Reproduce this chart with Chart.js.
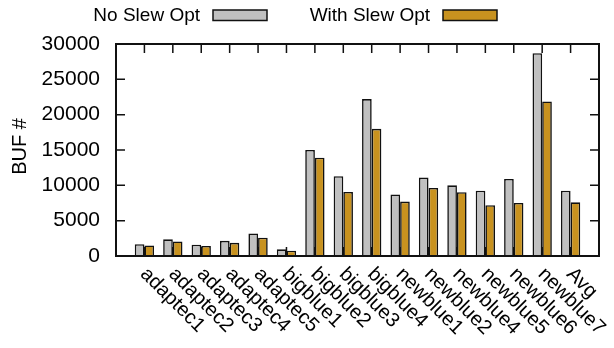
<!DOCTYPE html>
<html>
<head>
<meta charset="utf-8">
<script src="https://cdn.jsdelivr.net/npm/chart.js@4/dist/chart.umd.min.js"></script>
<style>
  html, body { margin: 0; padding: 0; background: #fff; }
  #c { display: block; }
</style>
</head>
<body>
<canvas id="c" width="614" height="348" style="width:614px;height:348px"></canvas>
<script>
// Benchmarks on the x axis
const categories = ['adaptec1', 'adaptec2', 'adaptec3', 'adaptec4', 'adaptec5',
  'bigblue1', 'bigblue2', 'bigblue3', 'bigblue4',
  'newblue1', 'newblue2', 'newblue4', 'newblue5', 'newblue6', 'newblue7', 'Avg'];

// Buffer counts per benchmark
const noSlew   = [1680, 2360, 1600, 2150, 3190, 950, 15000, 11300, 22200, 8700, 11100, 10000, 9250, 10900, 28700, 9250];
const withSlew = [1490, 2050, 1420, 1870, 2580, 740, 13900, 9070, 18000, 7700, 9640, 9020, 7180, 7510, 21870, 7600];

const seriesNames = ['No Slew Opt', 'With Slew Opt'];
const yTicks = [0, 5000, 10000, 15000, 20000, 25000, 30000];
const yTitle = 'BUF #';

const FONT = '"Liberation Sans", Arial, Helvetica, sans-serif';
const GRAY = '#c0c0c0';
const GOLD = '#c8921f';
const INK = '#111111';

// Frame, inward ticks on all four sides, rotated category labels, axis title and the key
const framePlugin = {
  id: 'gnuFrame',
  afterDraw(chart) {
    const { ctx, chartArea: a, scales: { x, y } } = chart;
    ctx.save();
    ctx.strokeStyle = INK;
    ctx.lineWidth = 1.5;
    const tl = 9;
    ctx.beginPath();
    yTicks.forEach(v => {
      const py = y.getPixelForValue(v);
      ctx.moveTo(a.left, py); ctx.lineTo(a.left + tl, py);
      ctx.moveTo(a.right, py); ctx.lineTo(a.right - tl, py);
    });
    categories.forEach((c, i) => {
      const px = x.getPixelForValue(i);
      ctx.moveTo(px, a.top); ctx.lineTo(px, a.top + tl);
      ctx.moveTo(px, a.bottom); ctx.lineTo(px, a.bottom - tl);
    });
    ctx.stroke();
    ctx.lineWidth = 2;
    ctx.strokeRect(a.left, a.top, a.right - a.left, a.bottom - a.top);
    ctx.lineWidth = 1.5;

    // category labels, running down and to the right from each tick
    ctx.fillStyle = '#000';
    ctx.font = '20px ' + FONT;
    ctx.textAlign = 'left';
    ctx.textBaseline = 'middle';
    categories.forEach((c, i) => {
      const px = x.getPixelForValue(i);
      ctx.save();
      ctx.translate(px - 1, a.bottom + 15);
      ctx.rotate(Math.PI / 4);
      ctx.fillText(c, 0, 0);
      ctx.restore();
    });

    // y axis title
    ctx.save();
    ctx.font = '20px ' + FONT;
    ctx.textAlign = 'center';
    ctx.translate(20, (a.top + a.bottom) / 2 - 3.5);
    ctx.rotate(-Math.PI / 2);
    ctx.fillText(yTitle, 0, 0);
    ctx.restore();

    // key: text followed by its swatch
    const keys = [
      { text: seriesNames[0], textRight: 200, sx: 213, color: GRAY },
      { text: seriesNames[1], textRight: 430, sx: 443, color: GOLD }
    ];
    ctx.font = '19px ' + FONT;
    ctx.textAlign = 'right';
    keys.forEach(k => {
      ctx.fillStyle = '#000';
      ctx.fillText(k.text, k.textRight, 16);
      ctx.fillStyle = k.color;
      ctx.fillRect(k.sx, 10, 54, 10.5);
      ctx.strokeRect(k.sx, 10, 54, 10.5);
    });
    ctx.restore();
  }
};

new Chart(document.getElementById('c'), {
  type: 'bar',
  data: {
    datasets: [
      {
        label: seriesNames[0],
        data: categories.map((c, i) => ({ x: i, y: noSlew[i] })),
        backgroundColor: GRAY,
        borderColor: INK,
        borderWidth: 1.6,
        categoryPercentage: 0.68,
        barPercentage: 1.0
      },
      {
        label: seriesNames[1],
        data: categories.map((c, i) => ({ x: i, y: withSlew[i] })),
        backgroundColor: GOLD,
        borderColor: INK,
        borderWidth: 1.6,
        categoryPercentage: 0.68,
        barPercentage: 1.0
      }
    ]
  },
  options: {
    responsive: false,
    animation: false,
    devicePixelRatio: 1,
    layout: { padding: { top: 44, right: 15, left: 0, bottom: 0 } },
    plugins: { legend: { display: false }, tooltip: { enabled: false } },
    scales: {
      x: {
        type: 'linear',
        min: -1,
        max: 16,
        offset: false,
        grid: { display: false, drawTicks: false },
        border: { display: false },
        ticks: { display: false, stepSize: 1 },
        afterFit(s) { s.height = 92; }
      },
      y: {
        min: 0,
        max: 30000,
        afterBuildTicks(s) { s.ticks = yTicks.map(v => ({ value: v })); },
        ticks: {
          color: '#000',
          padding: 16,
          font: { family: FONT, size: 21 },
          callback: v => String(v)
        },
        grid: { display: false, drawTicks: false },
        border: { display: false },
        afterFit(s) { s.width = 116; }
      }
    }
  },
  plugins: [framePlugin]
});
</script>
</body>
</html>
